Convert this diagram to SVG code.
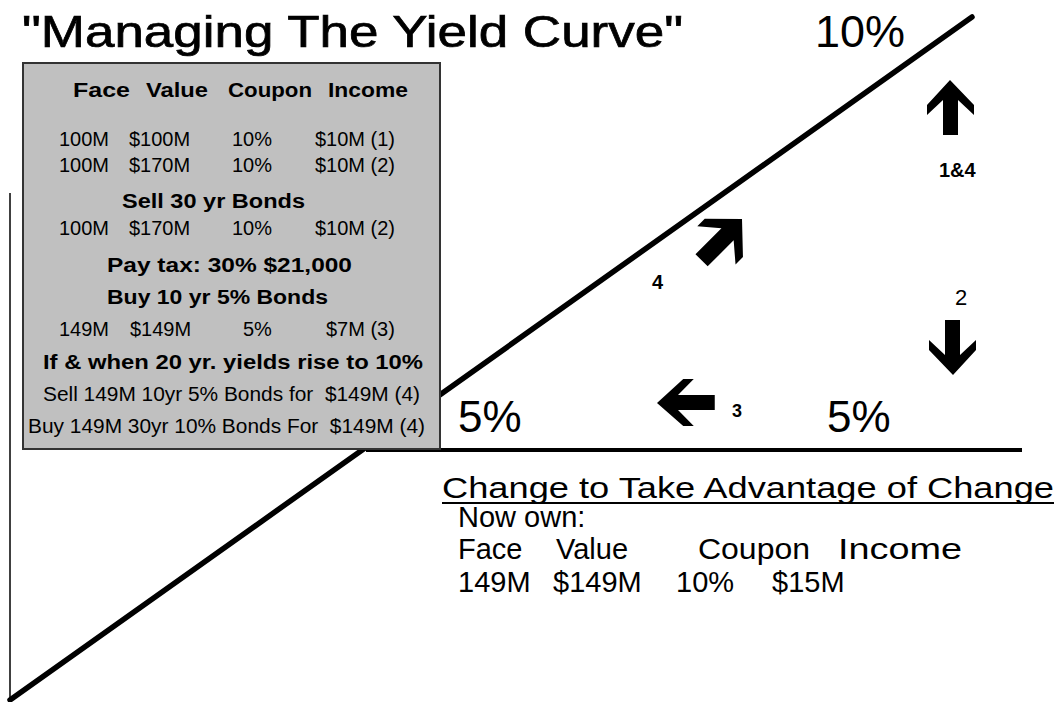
<svg xmlns="http://www.w3.org/2000/svg" xmlns:xlink="http://www.w3.org/1999/xlink" width="1059" height="702" viewBox="0 0 1059 702">
<style>
  .big { font-family: "Liberation Sans", Arial, sans-serif; font-size: 44px; fill: #000; }
  .ttl { stroke: #000; stroke-width: 0.7px; }
  .mid { font-family: "Liberation Sans", Arial, sans-serif; font-size: 30px; fill: #000; }
  .row { font-size: 29px; }
  .tb { font-family: "Liberation Sans", Arial, sans-serif; font-size: 20px; fill: #000; }
  .tbb { font-family: "Liberation Sans", Arial, sans-serif; font-size: 20px; font-weight: bold; fill: #000; }
  .lbl { font-family: "Liberation Sans", Arial, sans-serif; font-size: 20px; font-weight: bold; fill: #000; }
</style>
<defs>
  <path id="blockArrow" d="M0,0 L24,25 L24,35 L8,20 L8,55 L-7,55 L-7,20 L-23,35 L-23,25 Z" fill="#000"/>
</defs>
<rect x="0" y="0" width="1059" height="702" fill="#fff"/>

<g id="connectors">
  <line x1="10" y1="193" x2="10" y2="702" stroke="#404040" stroke-width="2"/>
  <line x1="10" y1="700" x2="972" y2="17" stroke="#000" stroke-width="5.5" stroke-linecap="round"/>
  <line x1="366" y1="450" x2="1022" y2="450" stroke="#000" stroke-width="4"/>
</g>

<g id="title">
  <text class="big ttl" x="22" y="47" textLength="661" lengthAdjust="spacingAndGlyphs">"Managing The Yield Curve"</text>
  <text class="big" x="815" y="47" textLength="90" lengthAdjust="spacingAndGlyphs">10%</text>
</g>

<g id="table">
  <rect x="23" y="63" width="417" height="386" fill="#c0c0c0" stroke="#333" stroke-width="2"/>
  <text class="tbb" x="73" y="97" textLength="57" lengthAdjust="spacingAndGlyphs">Face</text>
  <text class="tbb" x="146" y="97" textLength="62" lengthAdjust="spacingAndGlyphs">Value</text>
  <text class="tbb" x="228" y="97" textLength="84" lengthAdjust="spacingAndGlyphs">Coupon</text>
  <text class="tbb" x="328" y="97" textLength="80" lengthAdjust="spacingAndGlyphs">Income</text>

  <text class="tb" x="59" y="146">100M</text>
  <text class="tb" x="129" y="146">$100M</text>
  <text class="tb" x="232" y="146">10%</text>
  <text class="tb" x="315" y="146">$10M (1)</text>

  <text class="tb" x="59" y="172">100M</text>
  <text class="tb" x="129" y="172">$170M</text>
  <text class="tb" x="232" y="172">10%</text>
  <text class="tb" x="315" y="172">$10M (2)</text>

  <text class="tbb" x="122" y="208" textLength="183" lengthAdjust="spacingAndGlyphs">Sell 30 yr Bonds</text>

  <text class="tb" x="59" y="235">100M</text>
  <text class="tb" x="129" y="235">$170M</text>
  <text class="tb" x="232" y="235">10%</text>
  <text class="tb" x="315" y="235">$10M (2)</text>

  <text class="tbb" x="107" y="272" textLength="245" lengthAdjust="spacingAndGlyphs">Pay tax: 30% $21,000</text>
  <text class="tbb" x="107" y="304" textLength="221" lengthAdjust="spacingAndGlyphs">Buy 10 yr 5% Bonds</text>

  <text class="tb" x="59" y="336">149M</text>
  <text class="tb" x="130" y="336">$149M</text>
  <text class="tb" x="243" y="336">5%</text>
  <text class="tb" x="326" y="336">$7M (3)</text>

  <text class="tbb" x="43" y="369" textLength="380" lengthAdjust="spacingAndGlyphs">If &amp; when 20 yr. yields rise to 10%</text>
  <text class="tb" x="43" y="401" textLength="377" lengthAdjust="spacingAndGlyphs" xml:space="preserve">Sell 149M 10yr 5% Bonds for  $149M (4)</text>
  <text class="tb" x="28" y="433" textLength="397" lengthAdjust="spacingAndGlyphs" xml:space="preserve">Buy 149M 30yr 10% Bonds For  $149M (4)</text>
</g>

<g id="levels">
  <text class="big" x="458" y="432">5%</text>
  <text class="big" x="827" y="432">5%</text>
</g>

<g id="arrows">
  <use xlink:href="#blockArrow" href="#blockArrow" transform="translate(950,80)"/>
  <use xlink:href="#blockArrow" href="#blockArrow" transform="translate(953,375) rotate(180)"/>
  <use xlink:href="#blockArrow" href="#blockArrow" transform="translate(657,403) rotate(-90) scale(1,1.05)"/>
  <use xlink:href="#blockArrow" href="#blockArrow" transform="translate(742,219) rotate(45) scale(1.15,1.05)"/>
</g>

<g id="step-labels">
  <text class="lbl" x="939" y="177">1&amp;4</text>
  <text class="lbl" x="652" y="289">4</text>
  <text class="tb" x="955" y="305" style="font-size:22px">2</text>
  <text class="lbl" x="732" y="417" style="font-size:18px">3</text>
</g>

<g id="now-own">
  <text class="mid" x="442" y="498" textLength="612" lengthAdjust="spacingAndGlyphs">Change to Take Advantage of Change</text>
  <line x1="442" y1="503" x2="1054" y2="503" stroke="#000" stroke-width="2"/>
  <text class="mid row" x="458" y="527">Now own:</text>
  <text class="mid row" x="458" y="559">Face</text>
  <text class="mid row" x="556" y="559">Value</text>
  <text class="mid row" x="698" y="559" textLength="112" lengthAdjust="spacingAndGlyphs">Coupon</text>
  <text class="mid row" x="838" y="559" textLength="124" lengthAdjust="spacingAndGlyphs">Income</text>
  <text class="mid row" x="458" y="592">149M</text>
  <text class="mid row" x="553" y="592">$149M</text>
  <text class="mid row" x="676" y="592">10%</text>
  <text class="mid row" x="772" y="592">$15M</text>
</g>
</svg>
